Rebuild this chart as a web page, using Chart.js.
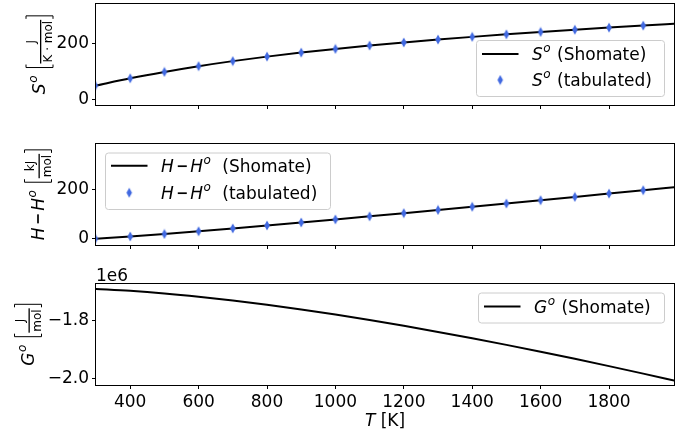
<!DOCTYPE html>
<html>
<head>
<meta charset="utf-8">
<script src="https://cdn.jsdelivr.net/npm/chart.js@4.4.0/dist/chart.umd.min.js"></script>
<style>
  html, body { margin: 0; padding: 0; background: #fff; }
  #wrap { position: relative; width: 691px; height: 432px; overflow: hidden; }
  canvas { position: absolute; left: 0; display: block; }
</style>
</head>
<body>
<div id="wrap">
  <canvas id="cS" width="691" height="134" style="top:-10px"></canvas>
  <canvas id="cH" width="691" height="141" style="top:124px"></canvas>
  <canvas id="cG" width="691" height="167" style="top:265px"></canvas>
</div>
<script>
// Al2O3 thermochemistry: tabulated values and Shomate curves
const tabT = [298.15, 400, 500, 600, 700, 800, 900, 1000, 1100, 1200, 1300, 1400, 1500, 1600, 1700, 1800, 1900];
const tabS = [50.95, 77.12, 99.81, 120.13, 138.09, 154.07, 168.43, 181.47, 193.42, 204.44, 214.67, 224.22, 233.17, 241.60, 249.57, 257.11, 264.27];
const tabH = [0.00, 9.03, 19.20, 30.16, 41.65, 53.52, 65.67, 78.05, 90.62, 103.36, 116.27, 129.31, 142.48, 155.77, 169.16, 182.66, 196.25];

const fitT = [298.15, 400, 500, 600, 700, 800, 900, 1000, 1100, 1200, 1300, 1400, 1500, 1600, 1700, 1800, 1900, 2000];
const fitS = [50.95, 77.12, 99.81, 120.13, 138.09, 154.07, 168.43, 181.47, 193.42, 204.44, 214.67, 224.22, 233.17, 241.60, 249.57, 257.11, 264.27, 271.08];
const fitH = [0.00, 9.03, 19.20, 30.16, 41.65, 53.52, 65.67, 78.05, 90.62, 103.36, 116.27, 129.31, 142.48, 155.77, 169.16, 182.66, 196.25, 209.94];
const fitG = [-1690891, -1697516, -1706405, -1717619, -1730709, -1745431, -1761619, -1779127, -1797841,
              -1817662, -1838499, -1860292, -1882976, -1906496, -1930799, -1955832, -1981553, -2007916];

const tTicks = [400, 600, 800, 1000, 1200, 1400, 1600, 1800];
const sTicks = [0, 200];
const hTicks = [0, 200];
const gTicks = [-2.0e6, -1.8e6];

const T_MIN = 300, T_MAX = 1990;

const FAM = "'DejaVu Sans', sans-serif";
const FS = 17;
const fN = FS + 'px ' + FAM;
const fI = 'italic ' + FS + 'px ' + FAM;
const fSup = 'italic 12px ' + FAM;
const fFrac = '12px ' + FAM;
const BLUE = '#4169e1';

Chart.defaults.font.family = FAM;
Chart.defaults.font.size = FS;
Chart.defaults.color = '#000';

// thin diamond marker
function thinDiamond() {
  const c = document.createElement('canvas');
  c.width = 8; c.height = 11;
  const g = c.getContext('2d');
  g.fillStyle = BLUE;
  g.beginPath();
  g.moveTo(4, 0.5); g.lineTo(6.8, 5.5); g.lineTo(4, 10.5); g.lineTo(1.2, 5.5);
  g.closePath(); g.fill();
  return c;
}
const DIAMOND = thinDiamond();

function pts(xs, ys) { return xs.map((x, i) => ({ x: x, y: ys[i] })); }

// text made of runs with different fonts / offsets; a run may also be a drawn minus bar
function runsWidth(ctx, runs) {
  let w = 0;
  for (const r of runs) {
    if (r.bar) { w += r.bar.pre + r.bar.w + r.bar.post; continue; }
    ctx.font = r.f; w += (r.dx || 0) + ctx.measureText(r.t).width;
  }
  return w;
}
function drawRuns(ctx, x, y, runs) {
  ctx.textAlign = 'left';
  ctx.textBaseline = 'alphabetic';
  for (const r of runs) {
    if (r.bar) {
      x += r.bar.pre;
      ctx.fillRect(x, y - r.bar.y - r.bar.h / 2, r.bar.w, r.bar.h);
      x += r.bar.w + r.bar.post;
      continue;
    }
    ctx.font = r.f;
    x += (r.dx || 0);
    ctx.fillText(r.t, x, y + (r.dy || 0));
    x += ctx.measureText(r.t).width;
  }
  return x;
}

const runsS = [{ t: 'S', f: fI }, { t: 'o', f: fSup, dy: -8, dx: 0.5 }];
const runsHH = [{ t: 'H', f: fI }, { bar: { pre: 4, w: 9, post: 3.5, y: 5.5, h: 1.7 } },
                { t: 'H', f: fI }, { t: 'o', f: fSup, dy: -8, dx: 0.5 }];
const runsG = [{ t: 'G', f: fI }, { t: 'o', f: fSup, dy: -8, dx: 0.5 }];
const tail = [{ t: ' (Shomate)', f: fN, dx: 1 }];
const tailTab = [{ t: ' (tabulated)', f: fN, dx: 1 }];
const tailH = [{ t: ' (Shomate)', f: fN, dx: 6 }];
const tailHTab = [{ t: ' (tabulated)', f: fN, dx: 6 }];

// rotated axis label: main symbol followed by [num / den]
function drawYLabel(ctx, baseX, centerY, mainRuns, num, den) {
  ctx.save();
  ctx.fillStyle = '#000';
  ctx.strokeStyle = '#000';
  ctx.font = fFrac;
  const fw = Math.max(ctx.measureText(num).width, ctx.measureText(den).width) + 2;
  const mw = runsWidth(ctx, mainRuns);
  const gap = 7, bw = 5;
  const total = mw + gap + bw + fw + bw;
  ctx.translate(baseX, centerY + total / 2);
  ctx.rotate(-Math.PI / 2);
  let x = drawRuns(ctx, 0, 0, mainRuns) + gap;
  const top = -19, bot = 8;
  ctx.lineWidth = 1;
  ctx.beginPath();
  ctx.moveTo(x + 4, top); ctx.lineTo(x + 1, top); ctx.lineTo(x + 1, bot); ctx.lineTo(x + 4, bot);
  ctx.stroke();
  x += bw;
  ctx.font = fFrac;
  ctx.textAlign = 'center';
  ctx.fillText(num, x + fw / 2, -10);
  ctx.fillText(den, x + fw / 2, 7);
  ctx.fillRect(x, -5, fw, 1.3);
  x += fw;
  ctx.beginPath();
  ctx.moveTo(x + 1, top); ctx.lineTo(x + 4, top); ctx.lineTo(x + 4, bot); ctx.lineTo(x + 1, bot);
  ctx.stroke();
  ctx.restore();
}

// matplotlib-like legend box
function drawLegend(ctx, box, rows) {
  ctx.save();
  ctx.beginPath();
  ctx.roundRect(box.x + 0.5, box.y + 0.5, box.w, box.h, 3);
  ctx.fillStyle = 'rgba(255,255,255,0.8)';
  ctx.fill();
  ctx.strokeStyle = '#cccccc';
  ctx.lineWidth = 1;
  ctx.stroke();
  const hx0 = box.x + 6, hx1 = box.x + 42.5, tx = box.x + 56;
  for (const r of rows) {
    if (r.kind === 'line') {
      ctx.strokeStyle = '#000';
      ctx.lineWidth = 2;
      ctx.beginPath(); ctx.moveTo(hx0, r.y); ctx.lineTo(hx1, r.y); ctx.stroke();
    } else {
      ctx.drawImage(DIAMOND, (hx0 + hx1) / 2 - DIAMOND.width / 2, r.y - DIAMOND.height / 2);
    }
    ctx.fillStyle = '#000';
    drawRuns(ctx, tx, r.y + 6, r.runs);
  }
  ctx.restore();
}

const framePlugin = {
  id: 'frame',
  afterDatasetsDraw(chart) {
    const a = chart.chartArea, ctx = chart.ctx;
    ctx.save();
    ctx.strokeStyle = '#000';
    ctx.lineWidth = 1;
    ctx.strokeRect(Math.round(a.left) - 0.5, Math.round(a.top) - 0.5,
                   Math.round(a.right) - Math.round(a.left) + 1, Math.round(a.bottom) - Math.round(a.top) + 1);
    ctx.restore();
  }
};

function makePanel(id, cfg) {
  const axisGrid = { drawOnChartArea: false, drawTicks: true, tickLength: 4, tickColor: '#000', tickWidth: 1, color: '#000' };
  return new Chart(document.getElementById(id), {
    type: 'scatter',
    data: { datasets: cfg.datasets },
    options: {
      responsive: false,
      animation: false,
      events: [],
      layout: { padding: { left: 0, right: 17, top: cfg.padTop, bottom: 0 } },
      plugins: { legend: { display: false }, tooltip: { enabled: false } },
      scales: {
        x: {
          type: 'linear', min: T_MIN, max: T_MAX,
          grid: axisGrid,
          border: { display: false },
          ticks: { display: cfg.xLabels, padding: 3, color: '#000', maxRotation: 0, autoSkip: false,
                   font: { size: FS }, callback: v => String(v) },
          afterBuildTicks: s => { s.ticks = tTicks.map(v => ({ value: v })); },
          afterFit: s => { s.height = cfg.xH; }
        },
        y: {
          type: 'linear', min: cfg.yMin, max: cfg.yMax,
          grid: axisGrid,
          border: { display: false },
          ticks: { padding: 3, color: '#000', font: { size: FS }, callback: cfg.yFmt },
          afterBuildTicks: s => { s.ticks = cfg.yTicks.map(v => ({ value: v })); },
          afterFit: s => { s.width = 96; }
        }
      }
    },
    plugins: [framePlugin, { id: 'decor', afterDraw: chart => cfg.decor(chart.ctx) }]
  });
}

const lineStyle = { showLine: true, borderColor: '#000', borderWidth: 2, pointRadius: 0,
                    cubicInterpolationMode: 'monotone', fill: false };
const markStyle = { showLine: false, pointStyle: DIAMOND, pointRadius: 5, backgroundColor: BLUE,
                    borderColor: BLUE, clip: 0 };

// entropy panel (canvas starts 10px above the page top)
makePanel('cS', {
  padTop: 14, xH: 19, xLabels: false,
  yMin: -17.8, yMax: 341, yTicks: sTicks, yFmt: v => String(v),
  datasets: [
    Object.assign({ label: 'S tabulated', data: pts(tabT, tabS) }, markStyle),
    Object.assign({ label: 'S Shomate', data: pts(fitT, fitS) }, lineStyle)
  ],
  decor: ctx => {
    drawYLabel(ctx, 45, 64.5, runsS, 'J', 'K \u00b7 mol');
    drawLegend(ctx, { x: 476, y: 50, w: 188, h: 56 }, [
      { kind: 'line', y: 64, runs: runsS.concat(tail) },
      { kind: 'mark', y: 90, runs: runsS.concat(tailTab) }
    ]);
  }
});

// enthalpy panel
makePanel('cH', {
  padTop: 20, xH: 20, xLabels: false,
  yMin: -25.5, yMax: 383.4, yTicks: hTicks, yFmt: v => String(v),
  datasets: [
    Object.assign({ label: 'H tabulated', data: pts(tabT, tabH) }, markStyle),
    Object.assign({ label: 'H Shomate', data: pts(fitT, fitH) }, lineStyle)
  ],
  decor: ctx => {
    drawYLabel(ctx, 43.5, 70.5, runsHH, 'kJ', 'mol');
    drawLegend(ctx, { x: 105, y: 28.5, w: 225, h: 56.5 }, [
      { kind: 'line', y: 41.7, runs: runsHH.concat(tailH) },
      { kind: 'mark', y: 68.7, runs: runsHH.concat(tailHTab) }
    ]);
  }
});

// Gibbs energy panel
makePanel('cG', {
  padTop: 19, xH: 47, xLabels: true,
  yMin: -2.0206e6, yMax: -1.6741e6, yTicks: gTicks,
  yFmt: v => (v / 1e6).toFixed(1).replace('-', '\u2212'),
  datasets: [
    Object.assign({ label: 'G Shomate', data: pts(fitT, fitG) }, lineStyle)
  ],
  decor: ctx => {
    drawYLabel(ctx, 33.5, 69.5, runsG, 'J', 'mol');
    drawLegend(ctx, { x: 478, y: 27.5, w: 186, h: 30 }, [
      { kind: 'line', y: 41.5, runs: runsG.concat(tail) }
    ]);
    ctx.save();
    ctx.fillStyle = '#000';
    ctx.font = fN;
    ctx.textAlign = 'left';
    ctx.fillText('1e6', 96, 15.5);
    const xr = [{ t: 'T', f: fI }, { t: ' [K]', f: fN }];
    const w = runsWidth(ctx, xr);
    drawRuns(ctx, 385 - w / 2, 160.5, xr);
    ctx.restore();
  }
});
</script>
</body>
</html>
